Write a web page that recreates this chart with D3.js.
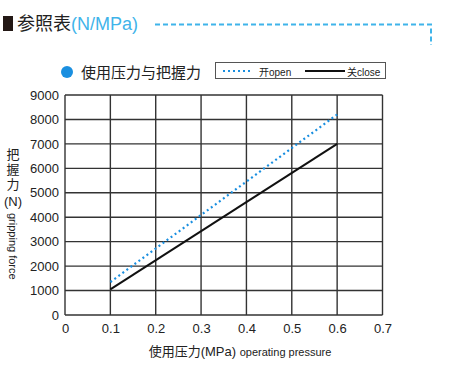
<!DOCTYPE html>
<html><head><meta charset="utf-8">
<script src="https://cdn.jsdelivr.net/npm/d3@7"></script>
<style>body{margin:0;background:#fff}svg{display:block}</style>
</head><body>
<script>
const pressures = [0.1, 0.6];
const openForce = [1350, 8200];
const closeForce = [1050, 7000];
const xTicks = [0, 0.1, 0.2, 0.3, 0.4, 0.5, 0.6, 0.7];
const yTicks = [0, 1000, 2000, 3000, 4000, 5000, 6000, 7000, 8000, 9000];

const W = 456, H = 383;
const svg = d3.select("body").append("svg").attr("width", W).attr("height", H);
const font = "'Liberation Sans', Arial, 'Noto Sans CJK SC', sans-serif";
const cjk = "'Noto Sans CJK SC', sans-serif";
const blue = "#1a8fe0";

// Title
svg.append("rect").attr("x", 3).attr("y", 16).attr("width", 10).attr("height", 15).attr("fill", "#231815");
const t = svg.append("text").attr("x", 17).attr("y", 30).attr("font-family", cjk).attr("font-size", 18);
t.append("tspan").attr("fill", "#222").text("参照表");
t.append("tspan").attr("fill", "#3fb4ea").attr("font-family", font).attr("font-size", 18).text("(N/MPa)");
svg.append("path").attr("d", "M155,24.5 H431 V45").attr("fill", "none")
  .attr("stroke", "#3fb4ea").attr("stroke-width", 2).attr("stroke-dasharray", "5,3");

// Legend heading
svg.append("circle").attr("cx", 67).attr("cy", 72).attr("r", 6).attr("fill", blue);
svg.append("text").attr("x", 81).attr("y", 78).attr("font-family", cjk).attr("font-size", 15).attr("fill", "#222").text("使用压力与把握力");
// Legend box
svg.append("rect").attr("x", 215.5).attr("y", 62.5).attr("width", 170).attr("height", 16)
  .attr("fill", "#fff").attr("stroke", "#555").attr("stroke-width", 1);
svg.append("line").attr("x1", 223).attr("x2", 253).attr("y1", 71).attr("y2", 71)
  .attr("stroke", blue).attr("stroke-width", 2).attr("stroke-dasharray", "2,3");
svg.append("text").attr("x", 259).attr("y", 75.5).attr("font-family", font).attr("font-size", 10).attr("fill", "#222")
  .html('<tspan font-family="Noto Sans CJK SC">开</tspan>open');
svg.append("line").attr("x1", 305).attr("x2", 345).attr("y1", 71).attr("y2", 71)
  .attr("stroke", "#111").attr("stroke-width", 2);
svg.append("text").attr("x", 347).attr("y", 75.5).attr("font-family", font).attr("font-size", 10).attr("fill", "#222")
  .html('<tspan font-family="Noto Sans CJK SC">关</tspan>close');

// Scales
const x = d3.scaleLinear().domain([0, 0.7]).range([65, 382.5]);
const y = d3.scaleLinear().domain([0, 9000]).range([315, 95]);

// Grid
const g = svg.append("g");
g.selectAll(".vx").data(xTicks).join("line")
  .attr("x1", d => x(d)).attr("x2", d => x(d)).attr("y1", y(0)).attr("y2", y(9000))
  .attr("stroke", "#333").attr("stroke-width", 1.4);
g.selectAll(".hy").data(yTicks).join("line")
  .attr("x1", x(0)).attr("x2", x(0.7)).attr("y1", d => y(d)).attr("y2", d => y(d))
  .attr("stroke", "#333").attr("stroke-width", 1.4);

// Axes (labels only)
const xAxis = svg.append("g").attr("transform", `translate(0,${y(0)})`)
  .call(d3.axisBottom(x).tickValues(xTicks).tickSize(0).tickPadding(9).tickFormat(d => d === 0 ? "0" : d3.format(".1f")(d)));
xAxis.select(".domain").remove();
xAxis.selectAll("text").attr("font-family", font).attr("font-size", 13).attr("fill", "#222");
const yAxis = svg.append("g").attr("transform", `translate(${x(0)},0)`)
  .call(d3.axisLeft(y).tickValues(yTicks).tickSize(0).tickPadding(6).tickFormat(d3.format("d")));
yAxis.select(".domain").remove();
yAxis.selectAll("text").attr("font-family", font).attr("font-size", 13).attr("fill", "#222");

// Lines
const line = d3.line().x(d => x(d[0])).y(d => y(d[1]));
svg.append("path").datum(pressures.map((p, i) => [p, closeForce[i]])).attr("d", line)
  .attr("fill", "none").attr("stroke", "#111").attr("stroke-width", 2);
svg.append("path").datum(pressures.map((p, i) => [p, openForce[i]])).attr("d", line)
  .attr("fill", "none").attr("stroke", blue).attr("stroke-width", 2.2).attr("stroke-dasharray", "2,3");

// X title
const xt = svg.append("text").attr("x", 240).attr("y", 356).attr("text-anchor", "middle").attr("fill", "#222");
xt.append("tspan").attr("font-family", cjk).attr("font-size", 13).text("使用压力");
xt.append("tspan").attr("font-family", font).attr("font-size", 13).text("(MPa) ");
xt.append("tspan").attr("font-family", font).attr("font-size", 11).text("operating pressure");

// Y title
svg.append("text").attr("x", 13).attr("y", 148)
  .style("writing-mode", "vertical-rl").style("text-orientation", "upright")
  .attr("letter-spacing", 2)
  .attr("font-family", cjk).attr("font-size", 13).attr("fill", "#222").text("把握力");
svg.append("text").attr("x", 13).attr("y", 206).attr("text-anchor", "middle")
  .attr("font-family", font).attr("font-size", 13).attr("fill", "#222").text("(N)");
svg.append("text").attr("transform", "translate(9,213) rotate(90)")
  .attr("font-family", font).attr("font-size", 11).attr("fill", "#222").text("gripping force");
</script>
</body></html>
